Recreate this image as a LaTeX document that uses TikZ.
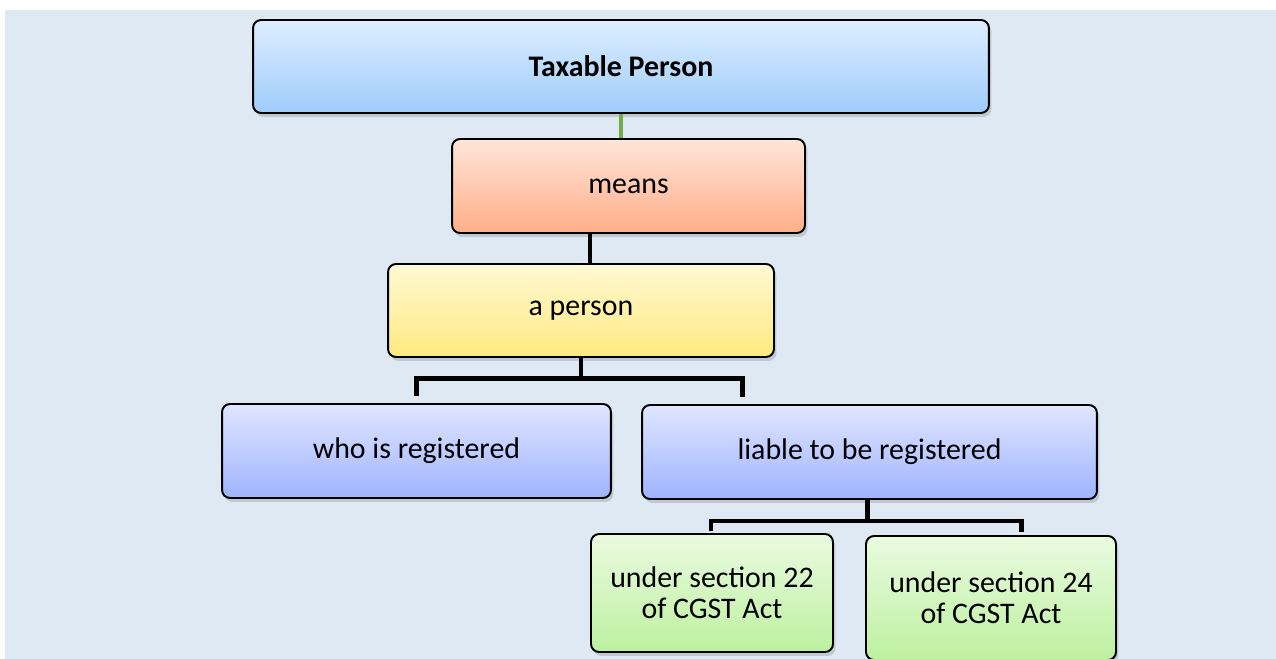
\documentclass[tikz,border=0pt]{standalone}
\usepackage{fontspec}
\setmainfont{Carlito}
\usepackage{xcolor}
\usetikzlibrary{positioning, calc, shadows}
\definecolor{backblue}{HTML}{DEE9F4}
\definecolor{titletop}{HTML}{DDEEFF}
\definecolor{titlebot}{HTML}{9FCCFB}
\definecolor{meanstop}{HTML}{FFE5DA}
\definecolor{meansbot}{HTML}{FFAE88}
\definecolor{persontop}{HTML}{FFF9D4}
\definecolor{personbot}{HTML}{FFE97F}
\definecolor{regtop}{HTML}{E0E6FF}
\definecolor{regbot}{HTML}{9FB3FF}
\definecolor{acttop}{HTML}{EAFBE0}
\definecolor{actbot}{HTML}{BDF0A0}
\definecolor{linkgreen}{HTML}{70AD47}
\tikzset{
    box/.style={draw=black, line width=1.1pt, rounded corners=1.6mm, align=center,
        font=\fontsize{17}{17.6}\selectfont, inner sep=2pt,
        drop shadow={opacity=0.3, shadow xshift=0.5mm, shadow yshift=-0.8mm}},
    titlebox/.style={box, top color=titletop, bottom color=titlebot, font=\fontsize{17}{17.6}\selectfont\bfseries},
    meansbox/.style={box, top color=meanstop, bottom color=meansbot},
    personbox/.style={box, top color=persontop, bottom color=personbot},
    regbox/.style={box, top color=regtop, bottom color=regbot},
    actbox/.style={box, top color=acttop, bottom color=actbot},
    bar/.style={line width=2.8pt, draw=black, line join=miter},
    greenbar/.style={line width=2.8pt, draw=linkgreen}
}

\begin{document}
\begin{tikzpicture}[x=0.02cm, y=-0.02cm]

% Background
\useasboundingbox (0,0) rectangle (1276,659);
\fill[backblue] (5,10) rectangle (1276,659);

% Nodes
\node[titlebox, minimum width=14.72cm, minimum height=1.86cm] (title) at (621,66.5) {Taxable Person};
\node[meansbox, minimum width=7.06cm, minimum height=1.88cm] (means) at (628.5,186) {means};
\node[personbox, minimum width=7.72cm, minimum height=1.86cm] (person) at (581,310.5) {a person};
\node[regbox, minimum width=7.78cm, minimum height=1.88cm] (who) at (416.5,451) {who is registered};
\node[regbox, minimum width=9.1cm, minimum height=1.88cm] (liable) at (869.5,452) {liable to be registered};
\node[actbox, minimum width=4.84cm, minimum height=2.36cm] (sec22) at (712,593) {under section 22\\of CGST Act};
\node[actbox, minimum width=5cm, minimum height=2.48cm] (sec24) at (991,598) {under section 24\\of CGST Act};

% Links
\draw[greenbar] (title.south) -- (title.south |- means.north);
\coordinate (drop) at ($(person.north)+(9,0)$);
\draw[bar] (drop |- means.south) -- (drop);
\draw[bar] (person.south) -- ++(0,21) coordinate (forkA);
\draw[bar] ($(who.north)+(0,-7)$) |- (forkA) -| ($(liable.north west)+(101,-7)$);
\draw[bar] ($(liable.south)+(-2,0)$) -- ++(0,21) coordinate (forkB);
\draw[bar] ($(sec22.north)+(-1,-2)$) |- (forkB) -| ($(sec24.north west)+(156,-3)$);

\end{tikzpicture}
\end{document}
